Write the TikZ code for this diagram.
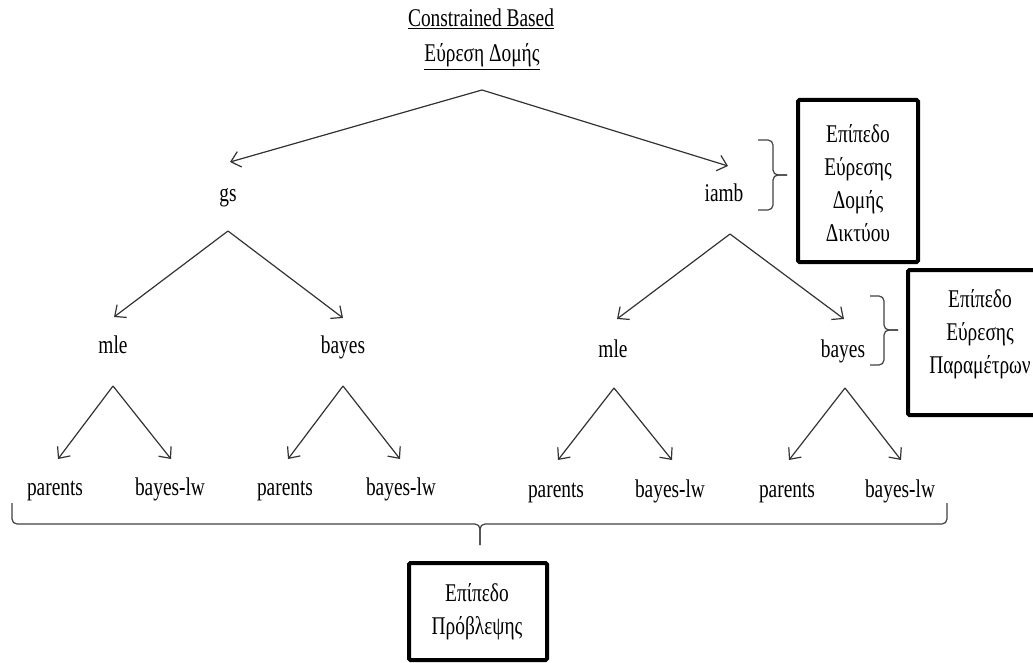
\documentclass[tikz,border=0pt]{standalone}
\usepackage{fontspec}
\setmainfont{Liberation Serif}[FakeStretch=0.76]
\usetikzlibrary{arrows.meta}

\begin{document}
\begin{tikzpicture}[x=1pt,y=-1pt,
  lbl/.style={anchor=base, inner sep=0pt, font=\fontsize{25.5}{33}\selectfont},
  branch/.style={draw=black!80, line width=1.2pt,
    -{Straight Barb[length=9pt,width=16pt,line width=1.2pt]}},
  frame/.style={draw=black, line width=4pt, inner sep=0pt, rounded corners=1.5pt},
  boxtext/.style={align=center, inner sep=0pt, font=\fontsize{25.5}{33}\selectfont},
  bracket/.style={draw=black!75, line width=1.2pt, rounded corners=5pt}]

\useasboundingbox (0,0) rectangle (1033,663);
\clip (0,0) rectangle (1033,663);

% title
\node[lbl] (title1) at (481,27) {\underline{Constrained Based}};
\node[lbl] (title2) at (482,62) {\underline{Εύρεση Δομής}};

% structure level
\node[lbl] (gs)   at (228,201) {gs};
\node[lbl] (iamb) at (724,201) {iamb};

% parameter level
\node[lbl] (mleA)   at (113,353) {mle};
\node[lbl] (bayesA) at (343,353) {bayes};
\node[lbl] (mleB)   at (613,357) {mle};
\node[lbl] (bayesB) at (843,357) {bayes};

% prediction level
\node[lbl] (parA) at (55,495)  {parents};
\node[lbl] (lwA)  at (170,495) {bayes-lw};
\node[lbl] (parB) at (285,495) {parents};
\node[lbl] (lwB)  at (401,495) {bayes-lw};
\node[lbl] (parC) at (556,497) {parents};
\node[lbl] (lwC)  at (670,497) {bayes-lw};
\node[lbl] (parD) at (787,497) {parents};
\node[lbl] (lwD)  at (900,497) {bayes-lw};

% branching points and arrow ends
\coordinate (s0) at (482,90);
\coordinate (s0l) at (230,162);
\coordinate (s0r) at (728,166);
\coordinate (sA) at (228,231);
\coordinate (sAl) at (114,317);
\coordinate (sAr) at (343,318);
\coordinate (sB) at (730,234);
\coordinate (sBl) at (617,319);
\coordinate (sBr) at (844,319);
\coordinate (sC) at (113,386);
\coordinate (sCl) at (58,459);
\coordinate (sCr) at (171,459);
\coordinate (sD) at (343,386);
\coordinate (sDl) at (288,459);
\coordinate (sDr) at (400,459);
\coordinate (sE) at (614,388);
\coordinate (sEl) at (558,460);
\coordinate (sEr) at (672,460);
\coordinate (sF) at (845,388);
\coordinate (sFl) at (789,460);
\coordinate (sFr) at (901,460);

\draw[branch] (s0) -- (s0l);
\draw[branch] (s0) -- (s0r);
\draw[branch] (sA) -- (sAl);
\draw[branch] (sA) -- (sAr);
\draw[branch] (sB) -- (sBl);
\draw[branch] (sB) -- (sBr);
\draw[branch] (sC) -- (sCl);
\draw[branch] (sC) -- (sCr);
\draw[branch] (sD) -- (sDl);
\draw[branch] (sD) -- (sDr);
\draw[branch] (sE) -- (sEl);
\draw[branch] (sE) -- (sEr);
\draw[branch] (sF) -- (sFl);
\draw[branch] (sF) -- (sFr);

% level boxes
\node[frame, minimum width=120pt, minimum height=162pt] (box1) at (858,181) {};
\node[boxtext] (box1txt) at (858,183) {Επίπεδο\\Εύρεσης\\Δομής\\Δικτύου};
\node[frame, minimum width=150pt, minimum height=145pt] (box2) at (983,342.5) {};
\node[boxtext] (box2txt) at (980,334) {Επίπεδο\\Εύρεσης\\Παραμέτρων};
\node[frame, minimum width=138pt, minimum height=97pt] (box3) at (478,611.5) {};
\node[boxtext] (box3txt) at (477,612) {Επίπεδο\\Πρόβλεψης};

% braces
\coordinate (b1t) at (758,140);
\coordinate (b1b) at (758,210);
\coordinate (b1m) at (787,175);
\draw[bracket] (b1t) -- (773,140) -- (773,175) -- (b1m);
\draw[bracket] (b1b) -- (773,210) -- (773,175) -- (b1m);

\coordinate (b2t) at (870,296);
\coordinate (b2b) at (870,365);
\coordinate (b2m) at (898,330);
\draw[bracket] (b2t) -- (884,296) -- (884,330) -- (b2m);
\draw[bracket] (b2b) -- (884,365) -- (884,330) -- (b2m);

\coordinate (b3l) at (12,503);
\coordinate (b3r) at (947,503);
\coordinate (b3m) at (480,545);
\draw[bracket] (b3l) -- (12,524) -- (480,524) -- (b3m);
\draw[bracket] (b3r) -- (947,524) -- (480,524) -- (b3m);

\end{tikzpicture}
\end{document}
